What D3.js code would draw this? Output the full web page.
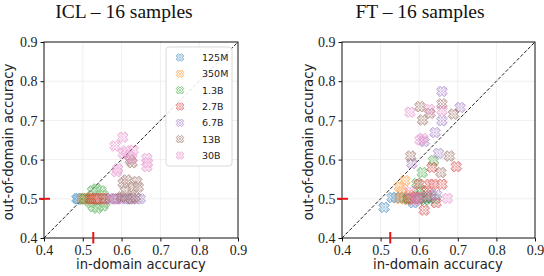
<!DOCTYPE html>
<html><head><meta charset="utf-8">
<script src="https://cdn.jsdelivr.net/npm/d3@7"></script>
<style>body{margin:0;background:#fff}svg{display:block}</style>
</head><body>
<svg id="c" width="544" height="276"></svg>
<script>
const models = ["125M","350M","1.3B","2.7B","6.7B","13B","30B"];
const colors = ["#1f77b4","#ff7f0e","#2ca02c","#d62728","#9467bd","#8c564b","#e377c2"];
const ticks = [0.4,0.5,0.6,0.7,0.8,0.9];
const titles = ["ICL \u2013 16 samples","FT \u2013 16 samples"];
const baselineX = [0.527, 0.525];
const baselineY = [0.5, 0.5];

// ICL: [in-domain, out-of-domain]
const icl125M = [[0.485,0.5],[0.49,0.5],[0.495,0.5],[0.5,0.5],[0.488,0.5],[0.498,0.5]];
const icl350M = [[0.5,0.5],[0.505,0.5],[0.51,0.5],[0.52,0.5],[0.515,0.5]];
const icl1_3B = [[0.505,0.5],[0.525,0.52],[0.535,0.525],[0.547,0.52],[0.552,0.51],[0.527,0.48],[0.537,0.476],[0.552,0.482],[0.556,0.49],[0.52,0.49]];
const icl2_7B = [[0.52,0.5],[0.525,0.5],[0.53,0.5],[0.535,0.5],[0.54,0.5],[0.545,0.5],[0.55,0.5],[0.555,0.5],[0.56,0.5],[0.585,0.5]];
const icl6_7B = [[0.57,0.5],[0.58,0.5],[0.59,0.5],[0.6,0.5],[0.61,0.5],[0.615,0.5],[0.62,0.5],[0.63,0.5],[0.64,0.5],[0.648,0.5]];
const icl13B = [[0.6,0.505],[0.61,0.505],[0.625,0.5],[0.635,0.505],[0.604,0.54],[0.613,0.548],[0.639,0.544],[0.63,0.531],[0.643,0.53],[0.61,0.52],[0.622,0.599],[0.627,0.592]];
const icl30B = [[0.603,0.657],[0.583,0.635],[0.63,0.624],[0.604,0.616],[0.626,0.603],[0.665,0.603],[0.665,0.582],[0.667,0.592],[0.587,0.569],[0.59,0.576],[0.612,0.622],[0.62,0.61]];

// FT
const ft125M = [[0.509,0.478],[0.53,0.503],[0.54,0.503],[0.55,0.503],[0.56,0.502],[0.57,0.503],[0.58,0.5],[0.585,0.49],[0.59,0.502],[0.6,0.503],[0.61,0.5],[0.62,0.502],[0.63,0.503]];
const ft350M = [[0.563,0.546],[0.549,0.531],[0.555,0.518],[0.55,0.5],[0.56,0.505],[0.57,0.498],[0.575,0.51],[0.58,0.502],[0.59,0.505],[0.6,0.5]];
const ft1_3B = [[0.637,0.597],[0.608,0.567],[0.594,0.539],[0.615,0.497],[0.6,0.51],[0.62,0.503],[0.63,0.51],[0.64,0.5],[0.57,0.5],[0.605,0.52]];
const ft2_7B = [[0.696,0.582],[0.633,0.58],[0.627,0.537],[0.637,0.537],[0.659,0.537],[0.613,0.471],[0.644,0.49],[0.62,0.52],[0.59,0.505],[0.6,0.537],[0.575,0.5]];
const ft6_7B = [[0.659,0.774],[0.706,0.733],[0.659,0.699],[0.641,0.669],[0.613,0.646],[0.65,0.616],[0.581,0.59],[0.645,0.51],[0.595,0.5]];
const ft13B = [[0.602,0.735],[0.659,0.742],[0.628,0.718],[0.689,0.716],[0.609,0.701],[0.678,0.609],[0.578,0.609],[0.656,0.567],[0.6,0.5],[0.62,0.505]];
const ft30B = [[0.627,0.728],[0.576,0.721],[0.659,0.725],[0.609,0.654],[0.602,0.65],[0.673,0.501],[0.576,0.518],[0.6,0.505],[0.63,0.51],[0.59,0.495]];

const panels = [
  [icl125M,icl350M,icl1_3B,icl2_7B,icl6_7B,icl13B,icl30B],
  [ft125M,ft350M,ft1_3B,ft2_7B,ft6_7B,ft13B,ft30B]
];

const svg = d3.select("#c");
const defs = svg.append("defs");
colors.forEach((c,i)=>{
  const p = defs.append("pattern").attr("id","h"+i).attr("patternUnits","userSpaceOnUse")
    .attr("width",3).attr("height",3);
  p.append("rect").attr("width",3).attr("height",3).attr("fill","#fff").attr("fill-opacity",0.3);
  p.append("path").attr("d","M0,0L3,3M3,0L0,3").attr("stroke",c).attr("stroke-width",0.7);
});
function xPath(r){
  const a = r*0.42;
  const pts = [[-a,-r],[a,-r],[a,-a],[r,-a],[r,a],[a,a],[a,r],[-a,r],[-a,a],[-r,a],[-r,-a],[-a,-a]];
  const rot = pts.map(([x,y])=>[(x-y)*Math.SQRT1_2,(x+y)*Math.SQRT1_2]);
  return "M"+rot.map(p=>p[0].toFixed(2)+","+p[1].toFixed(2)).join("L")+"Z";
}

const layouts = [
  {x0:44,x1:238,titleX:124,ylabX:13,xlabX:141},
  {x0:342,x1:535,titleX:420,ylabX:313,xlabX:438}
];
const y0 = 238, y1 = 42;

layouts.forEach((L,pi)=>{
  const x = d3.scaleLinear().domain([0.4,0.9]).range([L.x0,L.x1]);
  const y = d3.scaleLinear().domain([0.4,0.9]).range([y0,y1]);
  const g = svg.append("g");
  g.append("g").selectAll("line").data(ticks.slice(1,-1)).join("line")
    .attr("x1",d=>x(d)).attr("x2",d=>x(d)).attr("y1",y1).attr("y2",y0)
    .attr("stroke","#ebebeb").attr("stroke-width",0.8);
  g.append("g").selectAll("line").data(ticks.slice(1,-1)).join("line")
    .attr("y1",d=>y(d)).attr("y2",d=>y(d)).attr("x1",L.x0).attr("x2",L.x1)
    .attr("stroke","#ebebeb").attr("stroke-width",0.8);
  g.append("line").attr("x1",x(0.4)).attr("y1",y(0.4)).attr("x2",x(0.9)).attr("y2",y(0.9))
    .attr("stroke","#222").attr("stroke-width",1).attr("stroke-dasharray","3.5,1.8");
  panels[pi].forEach((pts,si)=>{
    g.append("g").attr("opacity",0.58).selectAll("path").data(pts).join("path")
      .attr("d",xPath(5.3))
      .attr("transform",d=>`translate(${x(d[0])},${y(d[1])})`)
      .attr("fill",`url(#h${si})`).attr("stroke",colors[si]).attr("stroke-width",1)
      .attr("stroke-linejoin","round");
  });
  g.append("rect").attr("x",L.x0).attr("y",y1).attr("width",L.x1-L.x0).attr("height",y0-y1)
    .attr("fill","none").attr("stroke","#111").attr("stroke-width",1);
  const ax = g.append("g").attr("transform",`translate(0,${y0})`)
    .call(d3.axisBottom(x).tickValues(ticks).tickSize(3.5).tickPadding(3).tickFormat(d3.format(".1f")));
  const ay = g.append("g").attr("transform",`translate(${L.x0},0)`)
    .call(d3.axisLeft(y).tickValues(ticks).tickSize(3.5).tickPadding(3).tickFormat(d3.format(".1f")));
  [ax,ay].forEach(a=>{
    a.select(".domain").remove();
    a.selectAll(".tick line").attr("stroke","#111");
    a.selectAll("text").attr("font-family","'Liberation Serif','DejaVu Serif',serif")
      .attr("font-size",14).attr("fill","#222");
  });
  ax.selectAll("text").attr("dy","0.72em");
  ay.selectAll("text").attr("dy","0.34em");
  g.append("line").attr("x1",L.x0-5).attr("x2",L.x0+6).attr("y1",y(baselineY[pi])).attr("y2",y(baselineY[pi]))
    .attr("stroke","#e8141a").attr("stroke-width",2);
  g.append("line").attr("x1",x(baselineX[pi])).attr("x2",x(baselineX[pi])).attr("y1",y0-6).attr("y2",y0+5.5)
    .attr("stroke","#e8141a").attr("stroke-width",2);
  g.append("text").attr("x",L.titleX).attr("y",18).attr("text-anchor","middle")
    .attr("font-family","'Liberation Serif','DejaVu Serif',serif").attr("font-size",19.5).attr("fill","#111")
    .text(titles[pi]);
  g.append("text").attr("x",L.xlabX).attr("y",269).attr("text-anchor","middle")
    .attr("font-family","'DejaVu Sans',sans-serif").attr("font-size",13.2).attr("fill","#222")
    .text("in-domain accuracy");
  g.append("text").attr("transform",`translate(${L.ylabX},142) rotate(-90)`).attr("text-anchor","middle")
    .attr("font-family","'DejaVu Sans',sans-serif").attr("font-size",13.2).attr("fill","#222")
    .text("out-of-domain accuracy");
});

const lg = svg.append("g");
lg.append("rect").attr("x",166).attr("y",47).attr("width",66).attr("height",119).attr("rx",3)
  .attr("fill","#fff").attr("fill-opacity",0.85).attr("stroke","#d0d0d0").attr("stroke-width",0.8);
const ly = d3.scalePoint().domain(models).range([57.5,155.5]);
models.forEach((m,i)=>{
  lg.append("path").attr("d",xPath(3.8)).attr("transform",`translate(180,${ly(m)})`)
    .attr("fill",`url(#h${i})`).attr("stroke",colors[i]).attr("stroke-width",0.9).attr("opacity",0.6);
  lg.append("text").attr("x",202).attr("y",ly(m)).attr("dy","0.36em")
    .attr("font-family","'DejaVu Sans',sans-serif").attr("font-size",9.5).attr("fill","#222").text(m);
});
</script>
</body></html>
